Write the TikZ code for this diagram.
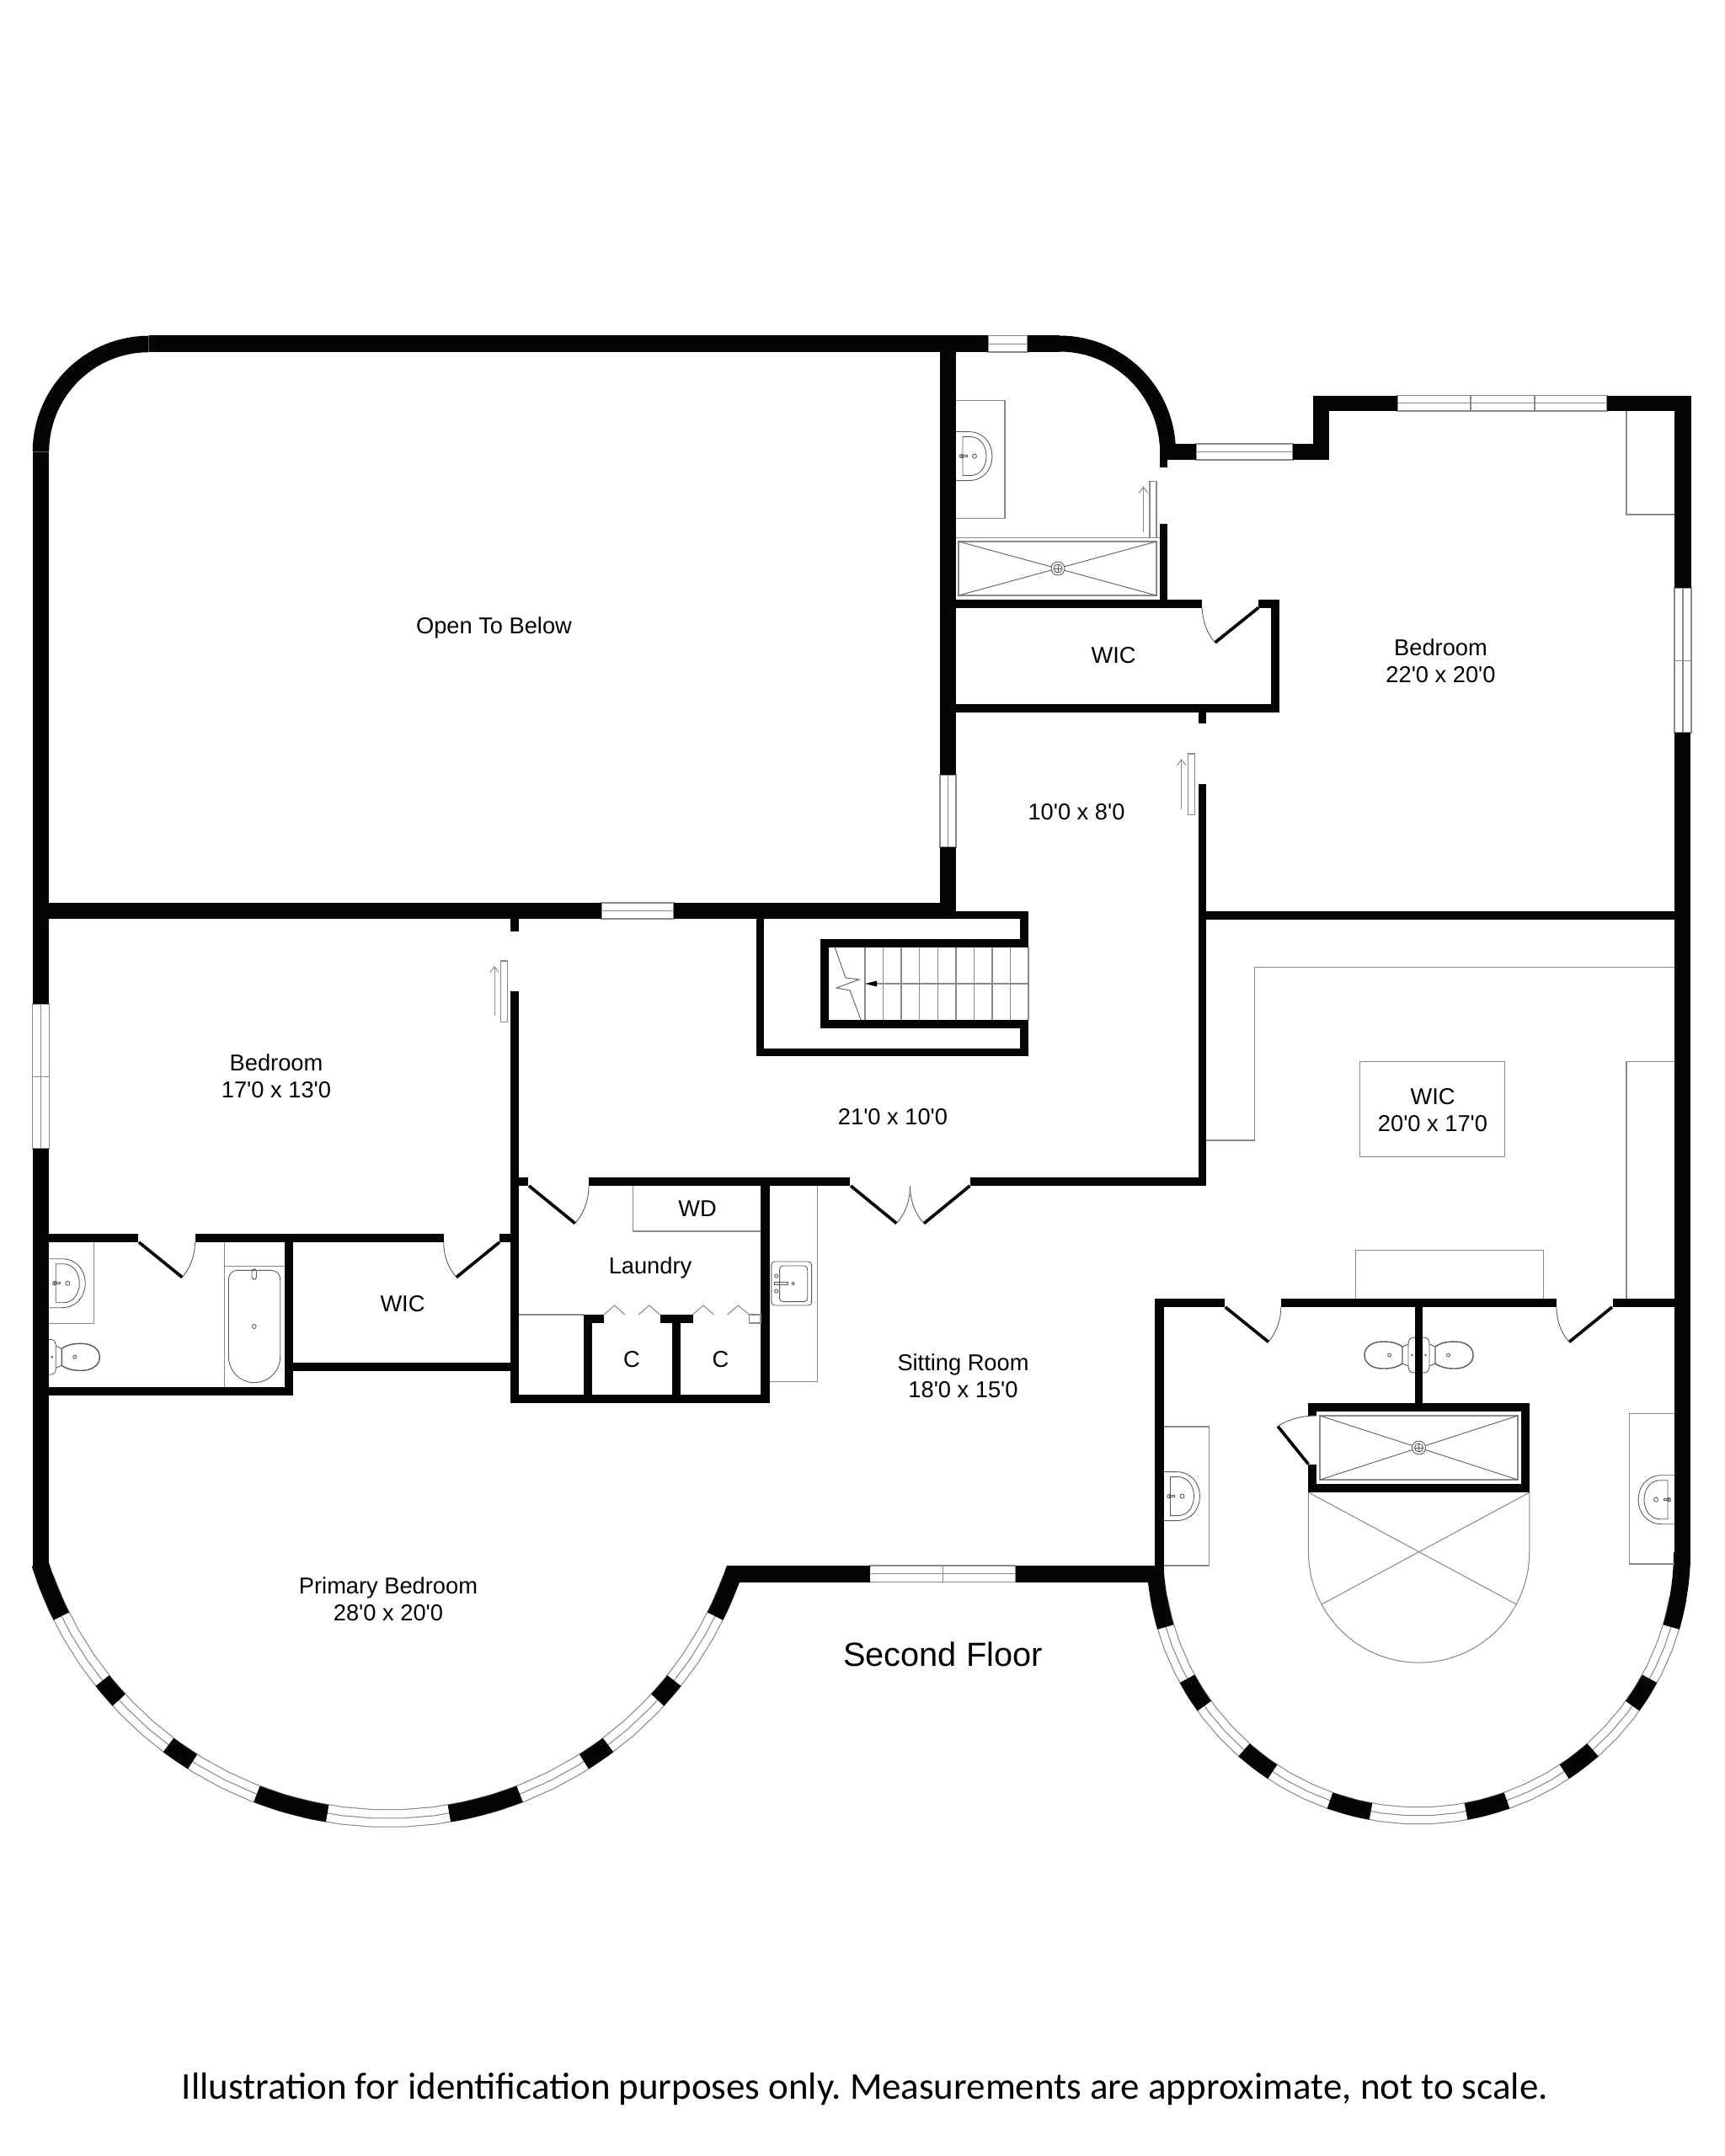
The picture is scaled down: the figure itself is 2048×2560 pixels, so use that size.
\documentclass[tikz,border=0pt]{standalone}
\usepackage{fontspec}
\usetikzlibrary{arrows.meta}
\newfontfamily\lblfont{Liberation Sans}
\newfontfamily\capfont{Carlito}
\definecolor{wallc}{HTML}{050505}
\definecolor{thinc}{HTML}{8A8A8A}
\definecolor{fixc}{HTML}{5A5A5A}
\tikzset{
  wallfill/.style={fill=wallc},
  thin line/.style={draw=thinc,line width=0.3pt},
  fix line/.style={draw=fixc,line width=0.25pt},
  leaf/.style={draw=wallc,line width=1.05pt},
  swing/.style={draw=fixc,line width=0.25pt},
  lbl/.style={font=\lblfont\fontsize{7.75}{9.1}\selectfont,align=center,text=black,inner sep=0pt},
  slidearrow/.style={draw=thinc,line width=0.28pt,-{Straight Barb[length=2pt,width=3pt]}},
}
\newcommand{\Wl}[4]{\fill[wallfill] (#1,#2) rectangle (#3,#4);}
\newcommand{\ringW}[6]{\fill[wallfill] plot[domain=#5:#6,samples=30] ({#1+#4*cos(\x)},{#2+#4*sin(\x)}) -- plot[domain=#6:#5,samples=30] ({#1+#3*cos(\x)},{#2+#3*sin(\x)}) -- cycle;}
\newcommand{\ringG}[6]{%
  \draw[thin line] plot[domain=#5:#6,samples=30] ({#1+#3*cos(\x)},{#2+#3*sin(\x)});
  \draw[thin line] plot[domain=#5:#6,samples=30] ({#1+#4*cos(\x)},{#2+#4*sin(\x)});
  \draw[thin line] plot[domain=#5:#6,samples=30] ({#1+(#3+#4)/2*cos(\x)},{#2+(#3+#4)/2*sin(\x)});}
\newcommand{\winH}[4]{\draw[thin line] (#1,#3) rectangle (#2,#4); \draw[thin line] (#1,{(#3+#4)/2}) -- (#2,{(#3+#4)/2});}
\newcommand{\winV}[4]{\draw[thin line] (#3,#1) rectangle (#4,#2); \draw[thin line] ({(#3+#4)/2},#1) -- ({(#3+#4)/2},#2);}
\newcommand{\toiletfix}[3]{\begin{scope}[shift={(#1,#2)},xscale=#3]
  \draw[fix line] (0,-21) .. controls (6,-21) and (8,-19) .. (8,-12) -- (8,12) .. controls (8,19) and (6,21) .. (0,21);
  \draw[fix line] (8,-13) -- (15,-10) (8,13) -- (15,10);
  \draw[fix line,line width=0.4pt] (15,-10) .. controls (22,-15) and (30,-16) .. (38,-16) .. controls (52,-16) and (60,-9) .. (60,0) .. controls (60,9) and (52,16) .. (38,16) .. controls (30,16) and (22,15) .. (15,10) -- cycle;
  \draw[fix line] (30.5,0) circle (2);
  \draw[fix line] (3.5,0) circle (0.8);
\end{scope}}
\newcommand{\sinkfix}[3]{\begin{scope}[shift={(#1,#2)},xscale=#3]
  \draw[fix line] (0,-29) -- (15,-29) .. controls (33,-29) and (43,-15) .. (43,0) .. controls (43,15) and (33,29) .. (15,29) -- (0,29);
  \draw[fix line] (8,-23) -- (17,-23) .. controls (29,-23) and (36,-12) .. (36,0) .. controls (36,12) and (29,23) .. (17,23) -- (8,23) -- cycle;
  \draw[fix line] (22,0) circle (2.5);
  \draw[fix line] (6.5,0) circle (2.2);
  \draw[fix line] (6.5,-1.2) rectangle (13,1.2);
\end{scope}}
\newcommand{\slidedoor}[5]{\draw[thin line] (#1,#3) rectangle (#2,#4); \draw[slidearrow] (#5,{#4-7}) -- (#5,{#3+6});}
\begin{document}
\frenchspacing
\begin{tikzpicture}[x=0.01cm,y=-0.01cm]
\useasboundingbox (0,0) rectangle (2048,2560);
% --- windows
\winH{1173}{1220}{398.3}{418}
\winH{1420}{1535}{527}{546}
\winH{1659}{1908}{469.5}{488}
\draw[thin line] (1746,469.5) -- (1746,488) (1822,469.5) -- (1822,488);
\winV{698}{870}{1988}{2008}
\draw[thin line] (1988,784.5) -- (2008,784.5);
\winV{920}{1006}{1116}{1135}
\winH{714}{800}{1072}{1091}
\winV{1192}{1364}{38.6}{58.3}
\draw[thin line] (38.6,1278.3) -- (58.3,1278.3);
\winH{1032.9}{1205.7}{1859}{1878.7}
\draw[thin line] (1119.3,1859) -- (1119.3,1878.7);
% --- curved windows
\ringG{461}{1725.6}{423.4}{444}{20}{160}
\ringG{1684}{1843}{303}{323}{10}{170}
% --- walls: outer shell
\Wl{176.7}{398.3}{1173}{418}
\Wl{1220}{398.3}{1258}{418}
\ringW{176.7}{536.7}{118.5}{138}{180}{270}
\ringW{1258}{536.5}{119}{138}{270}{356}
\Wl{38.6}{536.7}{58.3}{1192}
\Wl{38.6}{1364}{58.3}{1860}
\Wl{1377}{527}{1386}{555}
\Wl{1386}{527}{1420}{546}
\Wl{1535}{527}{1578}{546}
\Wl{1559}{469.5}{1578}{546}
\Wl{1559}{469.5}{1659}{488}
\Wl{1908}{469.5}{2008}{488}
\Wl{1988}{469.5}{2008}{698}
\Wl{1988}{870}{2007.4}{1859}
% --- primary bay
\ringW{461}{1725.6}{423.4}{444}{162.4}{153.5}
\ringW{461}{1725.6}{423.4}{444}{141.5}{137.5}
\ringW{461}{1725.6}{423.4}{444}{127}{122.4}
\ringW{461}{1725.6}{423.4}{444}{111.1}{99.6}
\ringW{461}{1725.6}{423.4}{444}{80.4}{68.9}
\ringW{461}{1725.6}{423.4}{444}{57.6}{53}
\ringW{461}{1725.6}{423.4}{444}{42.5}{38.5}
\ringW{461}{1725.6}{423.4}{444}{26.5}{18.4}
\Wl{863}{1859}{1032.9}{1878.7}
\Wl{1205.7}{1859}{1381.5}{1878.7}
% --- right bay
\ringW{1684}{1843}{303}{323}{177}{163.5}
\ringW{1684}{1843}{303}{323}{151.3}{144.3}
\ringW{1684}{1843}{303}{323}{131.4}{123.6}
\ringW{1684}{1843}{303}{323}{109.6}{100.4}
\ringW{1684}{1843}{303}{323}{79.6}{70.4}
\ringW{1684}{1843}{303}{323}{56.4}{48.6}
\ringW{1684}{1843}{303}{323}{35.7}{28.7}
\ringW{1684}{1843}{303}{323}{16.5}{0}
% --- interior walls
\Wl{1116}{418}{1135}{920}
\Wl{1116}{1006}{1135}{1091}
\Wl{58}{1072}{714}{1091}
\Wl{800}{1072}{1135}{1091}
\Wl{1376.5}{622}{1386}{711.5}
\Wl{1135}{711.5}{1427}{721.6}
\Wl{1494}{711.5}{1518.5}{721.6}
\Wl{1508.7}{711.5}{1518.5}{846}
\Wl{1135}{836}{1518.5}{846}
\Wl{1423}{846}{1432}{859}
\Wl{1423}{931}{1432}{1408}
\Wl{1432}{1081.5}{1988}{1091.6}
\Wl{1152.4}{1398}{1432}{1408}
\Wl{699}{1398}{1008.7}{1408}
\Wl{606.4}{1398}{627}{1408}
\Wl{606.4}{1091}{616}{1105.5}
\Wl{606.4}{1176.6}{616}{1666}
\Wl{606.4}{1656}{913.6}{1666}
\Wl{903.3}{1408}{913.6}{1666}
\Wl{693}{1561}{703}{1656}
\Wl{693}{1561}{717}{1571}
\Wl{798}{1561}{808}{1656}
\Wl{783.7}{1561}{822.5}{1571}
% stairs enclosure
\Wl{897.5}{1082}{1221}{1091}
\Wl{897.5}{1082}{907}{1254}
\Wl{897.5}{1244.6}{1221}{1254}
\Wl{1211}{1082}{1221}{1124.5}
\Wl{1211}{1211}{1221}{1254}
\Wl{974}{1115}{1221}{1124.5}
\Wl{974}{1211}{1221}{1220.5}
\Wl{974}{1115}{984}{1220.5}
% left suite
\Wl{58.3}{1465}{164.3}{1475}
\Wl{231.5}{1465}{526.7}{1475}
\Wl{593}{1465}{606.4}{1475}
\Wl{338}{1475}{348}{1656.7}
\Wl{58}{1647}{348}{1656.7}
\Wl{348}{1618}{606.4}{1628}
% right suite
\Wl{1371}{1541.5}{1454}{1552}
\Wl{1521}{1541.5}{1848}{1552}
\Wl{1915}{1541.5}{1988}{1552}
\Wl{1371}{1541.5}{1381.5}{1870}
\Wl{1680}{1552}{1689}{1666.4}
\Wl{1553.4}{1666.4}{1816}{1676.4}
\Wl{1553.4}{1762}{1816}{1772}
\Wl{1806}{1666.4}{1816}{1772}
\Wl{1553.4}{1666.4}{1563.4}{1681}
\Wl{1553.4}{1738.5}{1563.4}{1772}
% --- door leaves and swings
\draw[leaf] (1494,721.6) -- (1442.5,763);
\draw[swing] (1427,721.6) .. controls (1428,738) and (1433,752) .. (1442.5,763);
\draw[leaf] (628,1408) -- (682.8,1452.6);
\draw[swing] (699,1408) .. controls (699,1425) and (693,1441) .. (682.8,1452.6);
\draw[leaf] (1010,1408) -- (1064.5,1452.6);
\draw[swing] (1080.5,1408) .. controls (1080.5,1425) and (1075,1441) .. (1064.5,1452.6);
\draw[leaf] (1151.5,1408) -- (1097,1452.6);
\draw[swing] (1080.5,1408) .. controls (1080.5,1425) and (1086,1441) .. (1097,1452.6);
\draw[leaf] (165,1475) -- (216.4,1516.7);
\draw[swing] (231.5,1475) .. controls (231.5,1491) and (226,1505) .. (216.4,1516.7);
\draw[leaf] (593,1475) -- (541.7,1516.7);
\draw[swing] (526.7,1475) .. controls (526.7,1491) and (532,1505) .. (541.7,1516.7);
\draw[leaf] (1454.7,1552) -- (1506,1593.4);
\draw[swing] (1520.8,1552) .. controls (1520.8,1568) and (1515,1582) .. (1506,1593.4);
\draw[leaf] (1914,1552) -- (1863,1593.4);
\draw[swing] (1848,1552) .. controls (1848,1568) and (1853,1582) .. (1863,1593.4);
\draw[leaf] (1553.4,1738.5) -- (1517,1693.5);
\draw[swing] (1563.4,1681) .. controls (1546,1681) and (1530,1685) .. (1517,1693.5);
% --- sliding doors
\slidedoor{1365}{1373}{571.5}{638.5}{1357.5}
\slidedoor{1410.7}{1418.6}{895}{967.7}{1402.7}
\slidedoor{594.3}{602.9}{1141}{1213.3}{587}
% --- fold doors
\draw[thin line] (717,1561) -- (729.6,1550) -- (742,1561);
\draw[thin line] (758,1561) -- (770.7,1550) -- (783.7,1561);
\draw[thin line] (822.5,1561) -- (835,1550) -- (847.5,1561);
\draw[thin line] (863.6,1561) -- (876.5,1550) -- (889.5,1561);
\draw[thin line] (889.5,1561) rectangle (903,1571);
\draw[thin line] (616,1561) -- (693,1561);
% --- built-ins
\draw[thin line] (1931,488) -- (1931,611) -- (1988,611);
\draw[thin line] (1135,475.5) -- (1193,475.5) -- (1193,615.5) -- (1135,615.5);
\draw[thin line] (751.5,1408) -- (751.5,1462) -- (903,1462);
\draw[thin line] (970.7,1408) -- (970.7,1640.5) -- (913.6,1640.5);
\draw[thin line] (1432,1354) -- (1489.3,1354) -- (1489.3,1148.3) -- (1988,1148.3);
\draw[thin line] (1614.8,1260.7) rectangle (1786.6,1373.7);
\draw[thin line] (1988,1260.7) -- (1931,1260.7) -- (1931,1541.5);
\draw[thin line] (1609.8,1541.5) -- (1609.8,1484.3) -- (1832.5,1484.3) -- (1832.5,1541.5);
\draw[thin line] (58.3,1571.7) -- (111.7,1571.7) -- (111.7,1475);
\draw[thin line] (1381.5,1694) -- (1435.5,1694) -- (1435.5,1859) -- (1381.5,1859);
\draw[thin line] (1988,1678.8) -- (1934.6,1678.8) -- (1934.6,1857) -- (1988,1857);
% --- showers
\draw[thin line] (1135,638.5) -- (1376.5,638.5);
\draw[thin line] (1138,643) rectangle (1373,707);
\draw[fix line] (1138,643) -- (1373,707) (1373,643) -- (1138,707);
\draw[fix line,fill=white] (1256,675) circle (8);
\draw[fix line] (1256,675) circle (5);
\draw[fix line] (1251,675) -- (1261,675) (1256,670) -- (1256,680);
\draw[thin line] (1567,1681) rectangle (1802,1757);
\draw[fix line] (1567,1681) -- (1802,1757) (1802,1681) -- (1567,1757);
\draw[fix line,fill=white] (1684.5,1719) circle (8);
\draw[fix line] (1684.5,1719) circle (5);
\draw[fix line] (1679.5,1719) -- (1689.5,1719) (1684.5,1714) -- (1684.5,1724);
% --- arched platform
\draw[thin line] (1553.4,1772) -- (1553.4,1843) -- plot[domain=180:0,samples=50] ({1684.6+131.2*cos(\x)},{1843+131.2*sin(\x)}) -- (1815.8,1772);
\draw[thin line] (1553.4,1772) -- (1800,1904.7) (1816,1772) -- (1569.5,1904.7);
% --- tub
\draw[thin line] (266.2,1475) -- (266.2,1647) (266.2,1503.3) -- (338,1503.3);
\draw[fix line] (271.4,1520) .. controls (271.4,1512) and (276,1508.3) .. (283,1508.3) -- (321,1508.3) .. controls (328,1508.3) and (332.7,1512) .. (332.7,1520) -- (332.7,1611) .. controls (332.7,1628) and (318.7,1641.7) .. (302,1641.7) .. controls (285.4,1641.7) and (271.4,1628) .. (271.4,1611) -- cycle;
\draw[fix line] (301.8,1575) circle (2.4);
\draw[fix line,rounded corners=0.3mm] (299,1507) rectangle (304.5,1519);
% --- fixtures
\sinkfix{58.3}{1523.7}{1}
\sinkfix{1135}{541.6}{1}
\sinkfix{1381.5}{1776.6}{1}
\sinkfix{1988}{1780.7}{-1}
\toiletfix{58.3}{1611.3}{1}
\toiletfix{1680}{1609}{-1}
\toiletfix{1689}{1609}{1}
% --- wall sink
\draw[fix line,rounded corners=0.4mm] (915.8,1498) rectangle (963.6,1550);
\draw[fix line,rounded corners=0.4mm] (925.6,1503) rectangle (958.7,1545.6);
\draw[fix line] (921.6,1515) circle (2) (921.6,1533) circle (2) (941.7,1524) circle (1.6);
\draw[fix line] (919.4,1522.5) rectangle (935,1525.5);
% --- stairs
\foreach \sx in {1027,1048.4,1070,1091.7,1113.6,1135,1156.4,1178,1199.7,1221}
  \draw[thin line] (\sx,1124.5) -- (\sx,1211);
\draw[thin line] (1041,1168) -- (1221,1168);
\fill[wallfill] (1027,1168) -- (1041,1164.5) -- (1041,1171.5) -- cycle;
\draw[fix line] (991,1124.5) -- (1004,1161) -- (1020,1163) -- (993,1173) -- (1009,1176) -- (1022,1211);
% --- labels
\node[lbl] (openbelow) at (586.5,745) {Open To Below};
\node[lbl] (bed22) at (1710.5,785) {Bedroom\\22'0 x 20'0};
\node[lbl] (wicup) at (1322,778.5) {WIC};
\node[lbl] (hall10) at (1278,964.5) {10'0 x 8'0};
\node[lbl] (bed17) at (328,1278) {Bedroom\\17'0 x 13'0};
\node[lbl] (hall21) at (1060,1326) {21'0 x 10'0};
\node[lbl] (wd) at (828,1435) {WD};
\node[lbl] (laundry) at (772,1505) {Laundry};
\node[lbl] (c1) at (750,1614) {C};
\node[lbl] (c2) at (855.5,1614) {C};
\node[lbl] (wicleft) at (478,1548) {WIC};
\node[lbl] (sitting) at (1143.5,1634) {Sitting Room\\18'0 x 15'0};
\node[lbl] (primary) at (461,1899) {Primary Bedroom\\28'0 x 20'0};
\node[lbl] (wicbig) at (1701,1318) {WIC\\20'0 x 17'0};
\node[lbl,font=\lblfont\fontsize{11.3}{13}\selectfont] (floor) at (1119.5,1964) {Second Floor};
\node[lbl,font=\capfont\fontsize{12.78}{15}\selectfont] (caption) at (1027,2480) {Illustration for identification purposes only. Measurements are approximate, not to scale.};
\end{tikzpicture}
\end{document}
